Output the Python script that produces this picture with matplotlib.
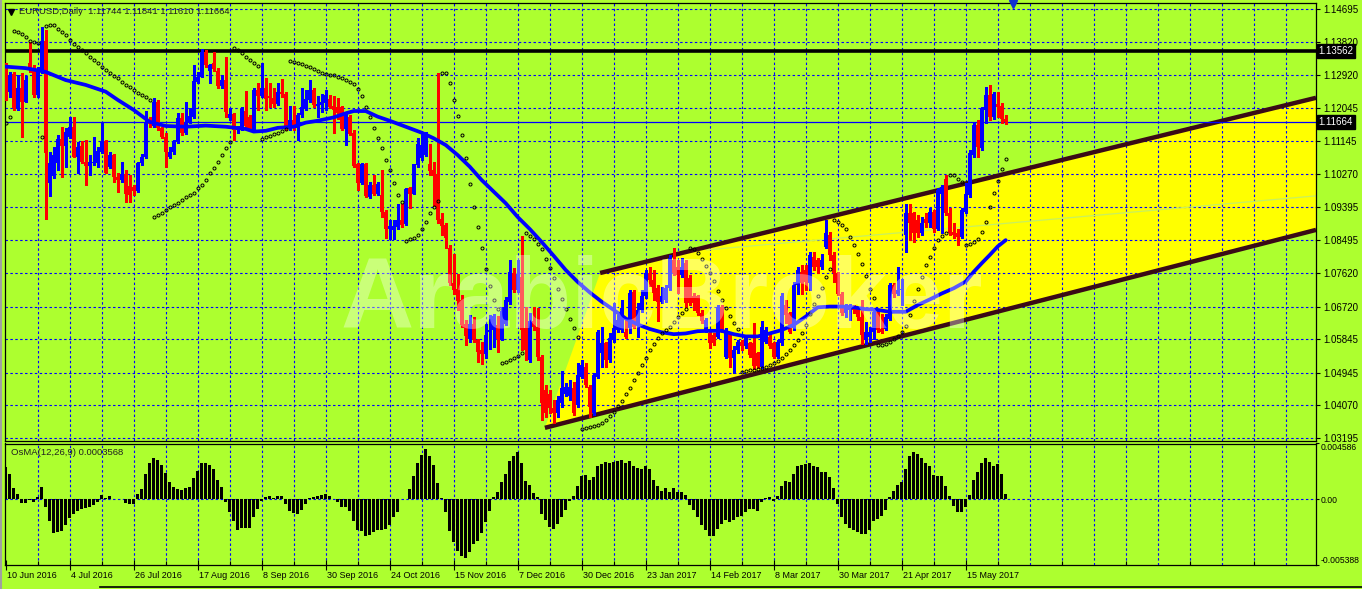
import matplotlib
matplotlib.use("Agg")
import matplotlib.pyplot as plt
import matplotlib.transforms as mtrans
from matplotlib.lines import Line2D

# ---- data (daily EURUSD, bar index 0 = 10 Jun 2016) ----
opens = [1.1317,1.1248,1.1296,1.1203,1.1257,1.1221,1.1326,1.1311,1.1239,1.1302,
1.1385,1.1002,1.1022,1.1056,1.1120,1.1103,1.1127,1.1154,1.1074,1.1102,
1.1060,1.1049,1.1056,1.1058,1.1087,1.1117,1.1047,1.1078,1.1020,1.1011,
1.1027,1.0995,1.0992,1.0983,1.1056,1.1072,1.1172,1.1156,1.1221,1.1150,
1.1127,1.1074,1.1085,1.1114,1.1177,1.1136,1.1168,1.1181,1.1275,1.1288,
1.1355,1.1304,1.1326,1.1304,1.1262,1.1279,1.1177,1.1187,1.1145,1.1150,
1.1196,1.1179,1.1145,1.1252,1.1236,1.1259,1.1236,1.1232,1.1215,1.1248,
1.1241,1.1154,1.1172,1.1150,1.1185,1.1203,1.1225,1.1252,1.1209,1.1212,
1.1218,1.1227,1.1209,1.1206,1.1206,1.1148,1.1179,1.1138,1.1055,1.1002,
1.1055,1.0966,1.0997,1.0975,1.0971,1.0926,1.0879,1.0877,1.0884,1.0905,
1.0893,1.0989,1.0975,1.1051,1.1069,1.1078,1.1055,1.1038,1.1027,1.0908,
1.0890,1.0828,1.0734,1.0718,1.0689,1.0626,1.0586,1.0625,1.0582,1.0555,
1.0546,1.0604,1.0610,1.0622,1.0584,1.0626,1.0685,1.0763,1.0716,1.0752,
1.0614,1.0529,1.0632,1.0618,1.0538,1.0448,1.0439,1.0399,1.0386,1.0413,
1.0439,1.0431,1.0453,1.0408,1.0484,1.0511,1.0457,1.0386,1.0484,1.0547,
1.0574,1.0529,1.0583,1.0609,1.0609,1.0605,1.0614,1.0712,1.0627,1.0663,
1.0699,1.0761,1.0743,1.0721,1.0685,1.0690,1.0721,1.0797,1.0779,1.0757,
1.0788,1.0748,1.0699,1.0699,1.0654,1.0609,1.0600,1.0596,1.0591,1.0672,
1.0538,1.0600,1.0533,1.0556,1.0578,1.0565,1.0574,1.0574,1.0547,1.0510,
1.0578,1.0591,1.0574,1.0538,1.0574,1.0676,1.0654,1.0614,1.0730,1.0765,
1.0771,1.0736,1.0805,1.0796,1.0779,1.0832,1.0864,1.0810,1.0761,1.0707,
1.0654,1.0663,1.0672,1.0667,1.0645,1.0582,1.0591,1.0604,1.0658,1.0613,
1.0613,1.0640,1.0729,1.0707,1.0716,1.0864,1.0922,1.0922,1.0904,1.0868,
1.0908,1.0895,1.0926,1.0881,1.0975,1.1015,1.0922,1.0873,1.0868,1.0859,
1.0926,1.0971,1.1078,1.1158,1.1096,1.1199,1.1239,1.1181,1.1215,1.1210,
1.11744]
highs = [1.1324,1.1302,1.1302,1.1293,1.1297,1.1290,1.1382,1.1320,1.1315,1.1421,
1.1414,1.1087,1.1101,1.1132,1.1154,1.1150,1.1181,1.1181,1.1114,1.1117,
1.1119,1.1078,1.1126,1.1101,1.1168,1.1119,1.1087,1.1081,1.1029,1.1060,
1.1038,1.1025,1.0998,1.1060,1.1081,1.1195,1.1181,1.1230,1.1226,1.1154,
1.1136,1.1101,1.1119,1.1190,1.1192,1.1221,1.1203,1.1320,1.1302,1.1362,
1.1360,1.1322,1.1355,1.1311,1.1293,1.1340,1.1203,1.1192,1.1156,1.1206,
1.1250,1.1185,1.1257,1.1272,1.1324,1.1284,1.1270,1.1257,1.1270,1.1281,
1.1248,1.1209,1.1209,1.1190,1.1257,1.1252,1.1279,1.1257,1.1236,1.1243,
1.1252,1.1239,1.1236,1.1230,1.1209,1.1194,1.1185,1.1145,1.1057,1.1057,
1.1057,1.1006,1.1024,1.1006,1.1038,1.0930,1.0904,1.0905,1.0948,1.0948,
1.0989,1.0993,1.1055,1.1123,1.1136,1.1141,1.1109,1.1060,1.1299,1.0923,
1.0895,1.0837,1.0814,1.0760,1.0702,1.0635,1.0649,1.0644,1.0586,1.0577,
1.0626,1.0649,1.0653,1.0646,1.0671,1.0698,1.0797,1.0775,1.0797,1.0860,
1.0672,1.0654,1.0672,1.0667,1.0542,1.0462,1.0448,1.0422,1.0431,1.0498,
1.0466,1.0475,1.0471,1.0520,1.0529,1.0520,1.0462,1.0493,1.0609,1.0618,
1.0578,1.0600,1.0681,1.0649,1.0690,1.0636,1.0717,1.0717,1.0681,1.0717,
1.0770,1.0779,1.0770,1.0730,1.0725,1.0730,1.0810,1.0828,1.0797,1.0801,
1.0797,1.0757,1.0708,1.0703,1.0663,1.0641,1.0609,1.0600,1.0676,1.0676,
1.0614,1.0605,1.0565,1.0583,1.0583,1.0596,1.0578,1.0627,1.0551,1.0632,
1.0618,1.0605,1.0578,1.0583,1.0708,1.0690,1.0658,1.0739,1.0779,1.0783,
1.0783,1.0819,1.0819,1.0801,1.0814,1.0904,1.0873,1.0819,1.0765,1.0712,
1.0680,1.0680,1.0676,1.0672,1.0689,1.0631,1.0618,1.0663,1.0663,1.0653,
1.0653,1.0734,1.0736,1.0779,1.0747,1.0948,1.0948,1.0926,1.0917,1.0913,
1.0922,1.0935,1.0931,1.0989,1.0998,1.1024,1.0935,1.0895,1.0881,1.0935,
1.1002,1.1092,1.1163,1.1172,1.1208,1.1261,1.1266,1.1248,1.1248,1.1217,
1.11841]
lows = [1.1226,1.1235,1.1199,1.1199,1.1127,1.1219,1.1302,1.1235,1.1235,1.1297,
1.0908,1.0968,1.1016,1.1038,1.1020,1.1047,1.1123,1.1072,1.1029,1.1056,
1.0998,1.1025,1.1051,1.1047,1.1083,1.1029,1.1043,1.1007,1.0980,1.1007,
1.0953,1.0953,1.0971,1.0980,1.1051,1.1069,1.1154,1.1154,1.1145,1.1123,
1.1045,1.1069,1.1081,1.1110,1.1132,1.1135,1.1163,1.1177,1.1270,1.1287,
1.1315,1.1270,1.1304,1.1257,1.1257,1.1181,1.1172,1.1119,1.1136,1.1145,
1.1150,1.1145,1.1141,1.1199,1.1233,1.1200,1.1206,1.1206,1.1212,1.1234,
1.1145,1.1145,1.1145,1.1118,1.1181,1.1200,1.1221,1.1206,1.1181,1.1194,
1.1198,1.1203,1.1136,1.1176,1.1145,1.1105,1.1131,1.1047,1.0984,1.1000,
1.0966,1.0962,1.0971,1.0971,1.0913,1.0857,1.0852,1.0852,1.0881,1.0886,
1.0890,1.0935,1.0973,1.1047,1.1065,1.1075,1.1024,1.0941,1.0896,1.0863,
1.0828,1.0729,1.0707,1.0662,1.0618,1.0568,1.0577,1.0577,1.0524,1.0519,
1.0533,1.0559,1.0564,1.0550,1.0582,1.0622,1.0680,1.0712,1.0712,1.0556,
1.0529,1.0524,1.0609,1.0529,1.0368,1.0377,1.0386,1.0359,1.0377,1.0404,
1.0431,1.0422,1.0381,1.0404,1.0480,1.0457,1.0377,1.0381,1.0480,1.0511,
1.0511,1.0524,1.0578,1.0605,1.0605,1.0587,1.0600,1.0614,1.0591,1.0658,
1.0694,1.0726,1.0690,1.0632,1.0681,1.0685,1.0717,1.0757,1.0708,1.0752,
1.0672,1.0676,1.0663,1.0649,1.0627,1.0605,1.0560,1.0569,1.0587,1.0605,
1.0533,1.0511,1.0493,1.0547,1.0556,1.0560,1.0538,1.0505,1.0507,1.0508,
1.0574,1.0560,1.0533,1.0533,1.0569,1.0627,1.0600,1.0609,1.0707,1.0707,
1.0716,1.0716,1.0770,1.0761,1.0774,1.0828,1.0796,1.0738,1.0703,1.0649,
1.0645,1.0636,1.0654,1.0636,1.0573,1.0573,1.0577,1.0586,1.0604,1.0600,
1.0609,1.0636,1.0698,1.0703,1.0676,1.0819,1.0850,1.0846,1.0859,1.0864,
1.0886,1.0886,1.0873,1.0877,1.0868,1.0917,1.0864,1.0855,1.0837,1.0855,
1.0922,1.0966,1.1074,1.1074,1.1092,1.1163,1.1172,1.1176,1.1181,1.1163,
1.11610]
closes = [1.1244,1.1293,1.1203,1.1257,1.1221,1.1278,1.1306,1.1239,1.1308,1.1385,
1.1083,1.1056,1.1078,1.1120,1.1102,1.1141,1.1154,1.1074,1.1101,1.1059,
1.1049,1.1059,1.1060,1.1090,1.1117,1.1031,1.1077,1.1020,1.1011,1.1027,
1.0973,1.0971,1.0983,1.1056,1.1074,1.1165,1.1161,1.1221,1.1150,1.1127,
1.1085,1.1087,1.1114,1.1177,1.1136,1.1166,1.1183,1.1277,1.1288,1.1355,
1.1320,1.1320,1.1308,1.1262,1.1279,1.1194,1.1187,1.1145,1.1152,1.1202,
1.1156,1.1147,1.1252,1.1236,1.1259,1.1227,1.1232,1.1215,1.1248,1.1241,
1.1154,1.1172,1.1150,1.1185,1.1206,1.1227,1.1252,1.1212,1.1215,1.1221,
1.1239,1.1206,1.1199,1.1190,1.1148,1.1192,1.1134,1.1048,1.1004,1.1055,
1.0968,1.0997,1.0975,1.1000,1.0926,1.0879,1.0888,1.0888,1.0905,1.0890,
1.0986,1.0975,1.1054,1.1109,1.1105,1.1136,1.1036,1.1022,1.0905,1.0888,
1.0855,1.0734,1.0716,1.0687,1.0622,1.0593,1.0626,1.0582,1.0550,1.0546,
1.0595,1.0610,1.0646,1.0584,1.0660,1.0689,1.0765,1.0716,1.0759,1.0609,
1.0556,1.0632,1.0618,1.0538,1.0413,1.0386,1.0399,1.0386,1.0422,1.0453,
1.0457,1.0457,1.0386,1.0489,1.0515,1.0462,1.0404,1.0489,1.0605,1.0574,
1.0529,1.0587,1.0614,1.0636,1.0667,1.0591,1.0708,1.0618,1.0663,1.0699,
1.0761,1.0743,1.0708,1.0685,1.0699,1.0721,1.0801,1.0761,1.0757,1.0779,
1.0681,1.0681,1.0681,1.0654,1.0632,1.0636,1.0574,1.0574,1.0672,1.0609,
1.0609,1.0533,1.0556,1.0578,1.0565,1.0587,1.0542,1.0512,1.0512,1.0618,
1.0609,1.0565,1.0538,1.0578,1.0699,1.0649,1.0605,1.0730,1.0770,1.0734,
1.0738,1.0810,1.0779,1.0779,1.0796,1.0868,1.0810,1.0761,1.0707,1.0654,
1.0676,1.0676,1.0663,1.0643,1.0595,1.0604,1.0604,1.0658,1.0610,1.0604,
1.0643,1.0729,1.0707,1.0716,1.0720,1.0922,1.0895,1.0868,1.0868,1.0895,
1.0895,1.0926,1.0881,1.0984,1.0993,1.0922,1.0868,1.0864,1.0859,1.0931,
1.0975,1.1083,1.1158,1.1100,1.1203,1.1239,1.1181,1.1243,1.1208,1.1174,
1.11664]

# moving average, read at a few bars along the line
ma_bars = [0,5,10,15,20,25,28,32,36,40,45,50,55,60,62,65,68,72,75,78,82,85,87,90,
           93,96,100,104,107,110,113,116,119,122,125,128,131,134,137,140,143,146,
           149,152,155,158,161,164,167,170,173,176,179,182,185,188,191,194,197,200,
           203,206,209,212,215,218,221,225,228,231,234,237,240,242,244,246,248,250]
ma_vals = [1.1315,1.1311,1.1301,1.1279,1.1266,1.1248,1.1226,1.1199,1.1167,1.1156,
           1.1154,1.1157,1.1154,1.1148,1.1141,1.1143,1.1151,1.1154,1.1165,1.1170,
           1.1179,1.1190,1.1196,1.1196,1.1181,1.1170,1.1154,1.1138,1.1123,1.1105,
           1.1078,1.1047,1.1011,1.0980,1.0949,1.0912,1.0880,1.0845,1.0808,1.0770,
           1.0738,1.0710,1.0685,1.0663,1.0640,1.0624,1.0612,1.0603,1.0598,1.0600,
           1.0606,1.0607,1.0607,1.0598,1.0592,1.0592,1.0600,1.0609,1.0623,1.0645,
           1.0670,1.0672,1.0672,1.0670,1.0665,1.0663,1.0658,1.0658,1.0676,1.0691,
           1.0707,1.0721,1.0739,1.0765,1.0788,1.0810,1.0833,1.0850]

# parabolic SAR, one dot per bar
sar = [1.1163,1.1181,1.1411,1.1407,1.1402,1.1395,1.1384,1.1380,1.1378,1.1127,
1.1424,1.1427,1.1427,1.1415,1.1407,1.1399,1.1386,1.1377,1.1368,1.1360,
1.1351,1.1340,1.1333,1.1324,1.1315,1.1306,1.1299,1.1290,1.1284,1.1275,
1.1266,1.1260,1.1252,1.1245,1.1239,1.1233,1.1226,1.0913,1.0917,1.0923,
1.0931,1.0938,1.0944,1.0950,1.0958,1.0965,1.0971,1.0977,1.0989,1.0998,
1.1011,1.1029,1.1043,1.1060,1.1078,1.1096,1.1114,1.1364,1.1360,1.1351,
1.1342,1.1333,1.1326,1.1318,1.1120,1.1126,1.1129,1.1134,1.1138,1.1143,
1.1147,1.1330,1.1327,1.1324,1.1321,1.1317,1.1313,1.1308,1.1303,1.1299,
1.1294,1.1293,1.1293,1.1288,1.1284,1.1279,1.1275,1.1268,1.1254,1.1236,
1.1208,1.1179,1.1150,1.1123,1.1096,1.1065,1.1038,1.1002,1.0971,1.0952,
1.0849,1.0852,1.0855,1.0864,1.0880,1.0898,1.0922,1.0938,1.0955,1.1297,
1.1297,1.1270,1.1226,1.1183,1.1132,1.1069,1.1000,1.0938,1.0886,1.0828,
1.0774,1.0727,1.0690,1.0665,1.0520,1.0524,1.0528,1.0533,1.0540,1.0548,
1.0868,1.0862,1.0852,1.0840,1.0825,1.0800,1.0775,1.0748,1.0720,1.0692,
1.0665,1.0640,1.0615,1.0590,1.0345,1.0347,1.0350,1.0352,1.0355,1.0360,
1.0368,1.0378,1.0390,1.0405,1.0420,1.0437,1.0455,1.0475,1.0495,1.0515,
1.0535,1.0555,1.0572,1.0588,1.0600,1.0610,1.0618,1.0630,1.0645,1.0655,
1.0665,1.0828,1.0826,1.0815,1.0800,1.0782,1.0762,1.0740,1.0715,1.0690,
1.0668,1.0648,1.0628,1.0612,1.0497,1.0499,1.0501,1.0503,1.0505,1.0507,
1.0510,1.0515,1.0520,1.0527,1.0535,1.0545,1.0556,1.0568,1.0582,1.0600,
1.0622,1.0653,1.0680,1.0700,1.0723,1.0752,1.0774,1.0905,1.0898,1.0890,
1.0881,1.0859,1.0837,1.0813,1.0786,1.0754,1.0720,1.0694,1.0569,1.0569,
1.0573,1.0578,1.0584,1.0592,1.0604,1.0619,1.0649,1.0687,1.0720,1.0752,
1.0783,1.0805,1.0828,1.0850,1.0862,1.0870,1.1024,1.1024,1.1015,1.1005,
1.0836,1.0839,1.0846,1.0854,1.0872,1.0899,1.0938,1.0977,1.1009,1.1042,
1.1068]

# OsMA(12,26,9) histogram
osma = [0.00262,0.00208,0.0009,0.00044,-0.00033,-0.00033,-0.00003,-0.00019,0.00016,0.00098,
-0.0006,-0.00175,-0.00279,-0.00271,-0.00257,-0.0021,-0.00153,-0.0012,-0.00093,-0.00079,
-0.00074,-0.00066,-0.00047,-0.00019,0.00036,0.00014,0.00025,0.00003,0.00001,-0.00001,
-0.0003,-0.00041,-0.00041,0.00044,0.00085,0.00208,0.00298,0.00336,0.00325,0.00282,
0.00216,0.00139,0.00104,0.00085,0.00079,0.0009,0.00098,0.00172,0.00235,0.00298,
0.00298,0.00282,0.00249,0.00161,0.00098,-0.00019,-0.00107,-0.0018,-0.00249,-0.00238,
-0.00238,-0.00238,-0.00148,-0.00079,-0.0001,0.00016,0.00025,0.00014,0.0003,0.00025,
-0.00038,-0.00093,-0.00112,-0.0012,-0.00085,-0.00041,0.0001,0.00016,0.00025,0.00035,
0.00044,0.00025,0.00003,-0.00019,-0.00066,-0.00066,-0.00093,-0.00175,-0.00248,-0.00257,
-0.00298,-0.00292,-0.0027,-0.00248,-0.00248,-0.00243,-0.0021,-0.00147,-0.00106,0.0,
0.00003,0.00085,0.00194,0.00298,0.00363,0.00412,0.00352,0.00281,0.00134,0.00008,
-0.00101,-0.00257,-0.00352,-0.0042,-0.00467,-0.00483,-0.00434,-0.00366,-0.00339,-0.00276,
-0.00188,-0.00093,0.00016,0.00057,0.00145,0.00207,0.00317,0.00352,0.00385,0.00298,
0.00153,0.00117,0.00055,0.0002,-0.0012,-0.00169,-0.00229,-0.00243,-0.00202,-0.00147,
-0.00085,-0.00011,0.00025,0.00112,0.00188,0.00199,0.00161,0.00186,0.00276,0.00289,
0.00303,0.00298,0.00308,0.00317,0.00322,0.00298,0.00317,0.00276,0.00254,0.00248,
0.00276,0.00248,0.00158,0.00112,0.00071,0.0009,0.00057,0.0009,0.00063,0.00063,
0.00035,-0.00046,-0.00085,-0.00142,-0.0021,-0.00248,-0.00298,-0.00298,-0.00243,-0.00202,
-0.00167,-0.00183,-0.00167,-0.00147,-0.00134,-0.00101,-0.00079,-0.00079,-0.00093,-0.00019,
0.0001,0.00016,-0.00014,0.0003,0.00106,0.0015,0.00139,0.00207,0.00276,0.00281,
0.00292,0.00298,0.00276,0.00262,0.00221,0.00226,0.0018,0.0009,-0.00038,-0.00147,
-0.00202,-0.00237,-0.00248,-0.0027,-0.00284,-0.00284,-0.00248,-0.00175,-0.00161,-0.00134,
-0.00085,0.00016,0.00071,0.00117,0.00145,0.00248,0.00352,0.00385,0.00371,0.00336,
0.00298,0.0027,0.00199,0.00194,0.00188,0.00112,0.00025,-0.00052,-0.00106,-0.00106,
-0.00066,0.00035,0.00161,0.00221,0.00298,0.00336,0.00303,0.0027,0.00289,0.00207,
0.00044]

date_bars = [0,16,32,48,64,80,96,112,128,144,160,176,192,208,224,240]
date_labels = ["10 Jun 2016","4 Jul 2016","26 Jul 2016","17 Aug 2016","8 Sep 2016",
               "30 Sep 2016","24 Oct 2016","15 Nov 2016","7 Dec 2016","30 Dec 2016",
               "23 Jan 2017","14 Feb 2017","8 Mar 2017","30 Mar 2017","21 Apr 2017",
               "15 May 2017"]
price_ticks = [1.14695,1.13820,1.12920,1.12045,1.11145,1.10270,1.09395,1.08495,
               1.07620,1.06720,1.05845,1.04945,1.04070,1.03195]
resist_level = 1.13562
last_price = 1.11664
osma_ticks = [0.004586, 0.0, -0.005388]

# channel anchors (bar, price)
chan_low = [(134.8, 1.0347), (250, 1.0664)]
chan_up = [(148.6, 1.0762), (250, 1.1028)]
mid_line = [(175.3, 1.0824), (250, 1.0895)]

# ---- figure ----
W, H = 1362, 589
BG = "#adff2f"
GRID = "#0000ff"
fig = plt.figure(figsize=(W / 100, H / 100), dpi=100, facecolor=BG)
ax = fig.add_axes([5 / W, 1 - 441 / H, 1311 / W, 438 / H], facecolor=BG)
axo = fig.add_axes([5 / W, 1 - 565 / H, 1311 / W, 121.5 / H], facecolor=BG)

xmin, xmax = -0.175, 327.575
n = len(closes)
xs = list(range(n))

for a in (ax, axo):
    a.set_xlim(xmin, xmax)
    for s in a.spines.values():
        s.set_color("black")
        s.set_linewidth(0.9)
    for gx in range(8, 328, 8):
        a.axvline(gx, color=GRID, lw=0.8, ls=(0, (2.2, 2.2)), zorder=1)

ax.set_ylim(1.03117, 1.14856)
axo.set_ylim(-0.005388, 0.004586)

# horizontal grid in price panel
for p in price_ticks:
    ax.axhline(p, color=GRID, lw=0.8, ls=(0, (2.2, 2.2)), zorder=1)

# channel fill + lines
def chan_at(pts, x):
    (x0, y0), (x1, y1) = pts
    return y0 + (y1 - y0) * (x - x0) / (x1 - x0)

poly_x = [chan_low[0][0], chan_up[0][0], xmax, xmax]
poly_y = [chan_low[0][1], chan_up[0][1], chan_at(chan_up, xmax), chan_at(chan_low, xmax)]
ax.fill(poly_x, poly_y, color="#ffff00", zorder=0.5, lw=0)
for pts in (chan_low, chan_up):
    ax.plot([pts[0][0], xmax], [pts[0][1], chan_at(pts, xmax)],
            color="#3a0a16", lw=3.2, zorder=2, solid_capstyle="butt")
ax.plot([mid_line[0][0], xmax], [mid_line[0][1], chan_at(mid_line, xmax)],
        color="#c8f060", lw=0.9, zorder=1.5)

# levels
ax.axhline(resist_level, color="black", lw=2.6, zorder=2)
ax.axhline(last_price, color="#0000ff", lw=0.9, zorder=2)

# candles
for i in xs:
    o, h, l, c = opens[i], highs[i], lows[i], closes[i]
    col = "#0000ff" if c >= o else "#ff0000"
    ax.vlines(i, l, h, color=col, lw=0.9, zorder=3, antialiased=False)
    ax.bar(i, max(abs(c - o), 0.00008), bottom=min(o, c), width=0.78,
           color=col, lw=0, zorder=3, antialiased=False)

ax.plot(ma_bars, ma_vals, color="#0000ff", lw=2.7, zorder=4, solid_capstyle="round")
ax.plot(xs, sar, ls="none", marker="o", ms=2.2, mfc="none", mec="black",
        mew=0.7, zorder=4)

# price axis
ax.yaxis.tick_right()
ax.set_yticks(price_ticks)
ax.set_yticklabels(["%.5f" % p for p in price_ticks])
ax.tick_params(axis="y", direction="out", length=3, width=0.8, pad=2,
               labelsize=7, colors="black")
ax.set_xticks([])
for lbl in ax.get_yticklabels():
    lbl.set_family("Liberation Sans")

trans_r = mtrans.blended_transform_factory(ax.transAxes, ax.transData)
for p in (resist_level, last_price):
    ax.text(1.0 + 2.5 / 1311, p, "%.5f" % p, transform=trans_r, ha="left",
            va="center", color="white", fontsize=7, family="Liberation Sans",
            bbox=dict(facecolor="black", edgecolor="black", pad=1.4), zorder=6)

ax.text(14 / 1311, 1 - 9 / 438, "EURUSD,Daily  1.11744 1.11841 1.11610 1.11664",
        transform=ax.transAxes, ha="left", va="center", fontsize=6.8,
        family="Liberation Sans", color="#202020", zorder=6)
ax.plot([6 / 1311], [1 - 9 / 438], transform=ax.transAxes, marker="v", ms=4,
        color="black", clip_on=False, zorder=6)

# oscillator
axo.bar(xs, osma, width=0.72, color="black", lw=0, zorder=3, antialiased=False)
axo.axhline(0, color=GRID, lw=0.8, ls=(0, (2.2, 2.2)), zorder=1)
axo.yaxis.tick_right()
axo.set_yticks(osma_ticks)
axo.set_yticklabels(["0.004586", "0.00", "-0.005388"])
axo.tick_params(axis="y", direction="out", length=2, width=0.8, pad=1,
                labelsize=6.2, colors="black")
labs = axo.get_yticklabels()
for lbl in labs:
    lbl.set_family("Liberation Sans")
labs[0].set_va("top")
labs[2].set_va("bottom")
axo.text(6 / 1311, 1 - 9 / 121.5, "OsMA(12,26,9) 0.0003568", transform=axo.transAxes,
         ha="left", va="center", fontsize=6.8, family="Liberation Sans",
         color="#202020", zorder=6)

axo.set_xticks(date_bars)
axo.set_xticks(list(range(8, 328, 16)), minor=True)
axo.set_xticklabels([])
axo.tick_params(axis="x", which="major", direction="inout", length=7, width=0.8)
axo.tick_params(axis="x", which="minor", direction="in", length=3, width=0.8)
trans_b = mtrans.blended_transform_factory(axo.transData, fig.transFigure)
for b, t in zip(date_bars, date_labels):
    axo.text(b + 0.3, 1 - 575 / H, t, transform=trans_b, ha="left", va="center",
             fontsize=6.5, family="Liberation Sans", color="black", clip_on=False)

# watermark
fig.text(340 / W, 1 - 328 / H, "ArabicBroker", ha="left", va="baseline",
         fontsize=73, fontweight="bold", family="Liberation Sans",
         color="white", alpha=0.36, zorder=10)

# chart-shift marker and window borders
fig.add_artist(Line2D([1013 / W], [1 - 4 / H], marker="v", ms=6, color="#1030d0",
                      transform=fig.transFigure))
fig.add_artist(Line2D([0.5 / W, 0.5 / W], [0, 1], color="#a0a0a0", lw=1.5,
                      transform=fig.transFigure))
fig.add_artist(Line2D([100 / W, 1], [1 - 587 / H, 1 - 587 / H], color="black",
                      lw=1.2, transform=fig.transFigure))

fig.savefig("out.png", dpi=100, facecolor=BG)
